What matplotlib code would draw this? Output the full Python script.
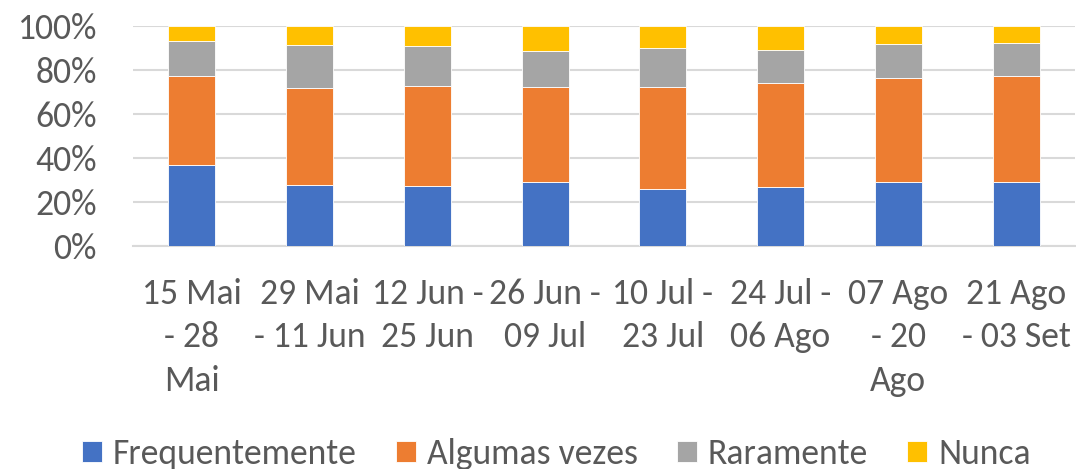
import matplotlib.pyplot as plt
import numpy as np
from matplotlib.ticker import PercentFormatter

plt.rcParams["font.family"] = ["Carlito", "DejaVu Sans"]

# periods (two-week windows)
periods = [
    "15 Mai\n- 28\nMai",
    "29 Mai\n- 11 Jun",
    "12 Jun -\n25 Jun",
    "26 Jun -\n09 Jul",
    "10 Jul -\n23 Jul",
    "24 Jul -\n06 Ago",
    "07 Ago\n- 20\nAgo",
    "21 Ago\n- 03 Set",
]

# shares in percent
frequentemente = [36.7, 27.5, 27.1, 29.1, 25.8, 26.8, 29.1, 29.1]
algumas_vezes = [40.6, 44.3, 45.6, 43.2, 46.5, 47.0, 47.3, 48.0]
raramente = [15.6, 19.4, 17.9, 16.3, 17.7, 15.3, 15.4, 15.2]
nunca = [7.1, 8.8, 9.4, 11.4, 10.0, 10.9, 8.2, 7.7]

series = [
    ("Frequentemente", frequentemente, "#4472c4"),
    ("Algumas vezes", algumas_vezes, "#ed7d31"),
    ("Raramente", raramente, "#a5a5a5"),
    ("Nunca", nunca, "#ffc000"),
]

text_color = "#595959"
fsize = 25.7

fig = plt.figure(figsize=(10.76, 4.69), dpi=100)
ax = fig.add_axes([0.1236, 0.476, 0.8754, 0.469])

x = np.arange(len(periods))
width = 0.4
bottom = np.zeros(len(periods))
for name, vals, color in series:
    vals = np.array(vals)
    ax.bar(x, vals, width, bottom=bottom, label=name, color=color,
           edgecolor="white", linewidth=0.6, zorder=3)
    bottom += vals

ax.set_xlim(-0.5, len(periods) - 0.5)
ax.set_ylim(0, 100)
ax.set_yticks(np.arange(0, 101, 20))
ax.yaxis.set_major_formatter(PercentFormatter(decimals=0))
ax.grid(axis="y", color="#d9d9d9", linewidth=1.5, zorder=0)
for side in ["top", "right", "left"]:
    ax.spines[side].set_visible(False)
ax.spines["bottom"].set_color("#d9d9d9")
ax.spines["bottom"].set_linewidth(1.5)

ax.set_xticks(x)
ax.set_xticklabels(periods, linespacing=1.45)
ax.tick_params(axis="both", length=0, labelsize=fsize, colors=text_color)
ax.tick_params(axis="x", pad=23)
ax.tick_params(axis="y", pad=26)

leg = fig.legend(loc="center", bbox_to_anchor=(0.517, 0.032), ncol=4,
                 frameon=False, fontsize=fsize, handlelength=0.56,
                 handleheight=0.56, handletextpad=0.31, columnspacing=1.09,
                 borderpad=0, borderaxespad=0)
for t in leg.get_texts():
    t.set_color(text_color)

fig.savefig("out.png", dpi=100)
